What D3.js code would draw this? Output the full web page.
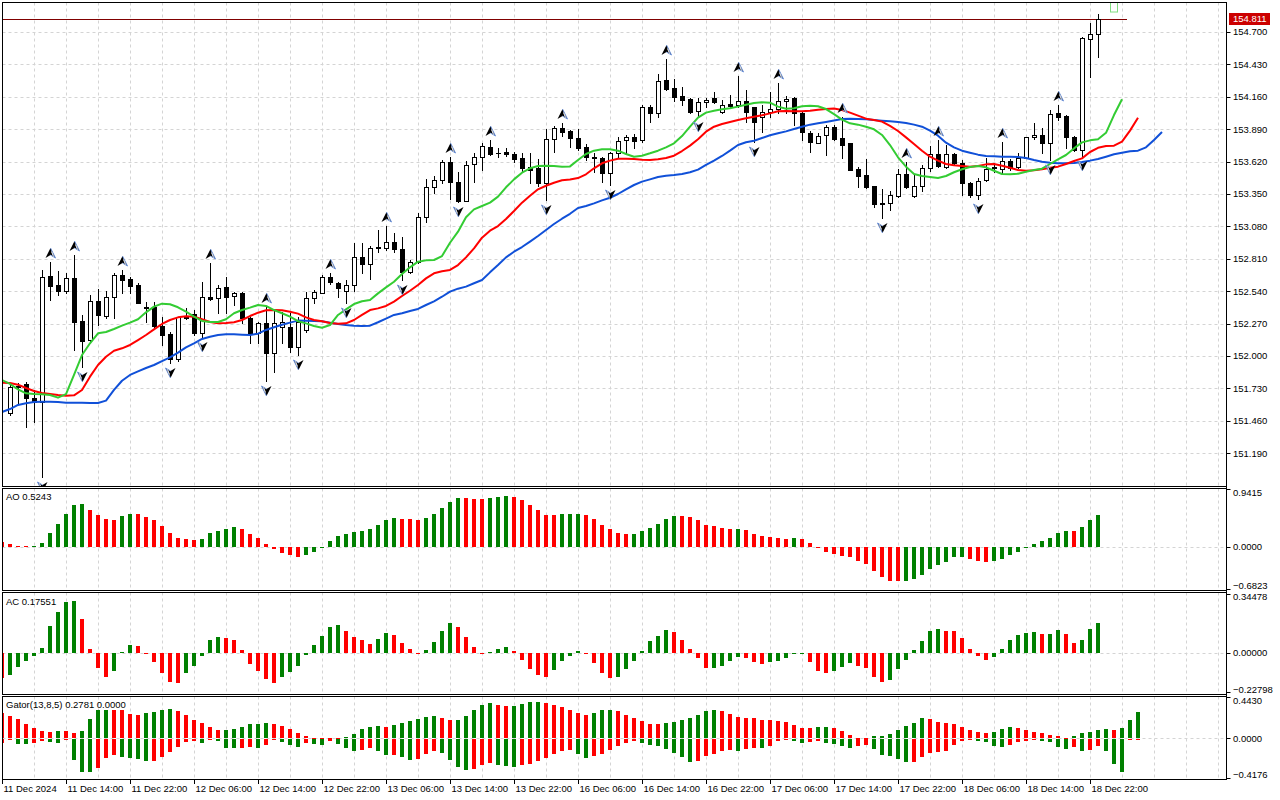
<!DOCTYPE html>
<html><head><meta charset="utf-8">
<script src="https://cdnjs.cloudflare.com/ajax/libs/d3/7.8.5/d3.min.js"></script>
<style>
body{margin:0;background:#fff}
svg{display:block}
text{font-family:"Liberation Sans",Arial,sans-serif;font-size:9.5px;fill:#000}
</style></head>
<body><svg id="c" width="1280" height="800"></svg>
<script>
// ---------- DATA (bar index 0 = 11 Dec 07:00, H1) ----------
const openP=[151.525,151.742,151.767,151.65,151.617,152.667,152.592,152.542,152.65,152.292,152.133,152.458,152.333,152.492,152.675,152.642,152.592,152.40,152.408,152.25,152.183,151.975,152.317,152.35,152.192,152.492,152.483,152.575,152.50,152.525,152.317,152.192,152.275,152.025,152.242,152.245,152.075,152.217,152.483,152.525,152.659,152.609,152.542,152.592,152.825,152.767,152.90,152.90,152.95,152.892,152.70,152.783,153.158,153.408,153.467,153.617,153.45,153.292,153.60,153.658,153.742,153.692,153.70,153.683,153.65,153.575,153.567,153.442,153.808,153.90,153.875,153.817,153.742,153.65,153.65,153.525,153.692,153.80,153.825,153.80,154.075,154.025,154.30,154.233,154.167,154.142,154.042,154.117,154.15,154.033,154.10,154.092,154.125,154.075,153.992,154.033,154.058,154.125,154.15,154.025,153.858,153.775,153.842,153.908,153.817,153.775,153.558,153.508,153.417,153.275,153.275,153.333,153.517,153.333,153.417,153.567,153.683,153.575,153.683,153.608,153.442,153.342,153.467,153.567,153.558,153.625,153.575,153.65,153.825,153.842,153.775,154.025,154.0,153.825,153.717,154.642,154.683];
const highP=[151.775,151.775,151.783,151.717,152.717,152.783,152.709,152.692,152.842,152.342,152.508,152.558,152.542,152.692,152.717,152.659,152.609,152.45,152.45,152.325,152.20,152.325,152.40,152.383,152.617,152.775,152.592,152.659,152.533,152.533,152.325,152.283,152.408,152.383,152.367,152.358,152.325,152.533,152.55,152.675,152.692,152.617,152.633,152.942,152.942,152.917,153.05,153.083,153.025,152.992,152.80,153.192,153.475,153.50,153.633,153.658,153.533,153.625,153.692,153.775,153.80,153.733,153.733,153.70,153.692,153.692,153.642,153.892,153.917,153.942,153.883,153.892,153.767,153.692,153.658,153.70,153.825,153.842,153.85,154.092,154.092,154.35,154.475,154.308,154.242,154.15,154.15,154.15,154.20,154.133,154.175,154.333,154.217,154.075,154.092,154.20,154.275,154.167,154.158,154.033,153.875,153.858,153.925,153.925,153.992,153.775,153.575,153.642,153.417,153.392,153.375,153.558,153.617,153.508,153.592,153.75,153.80,153.758,153.692,153.633,153.45,153.483,153.65,153.608,153.783,153.642,153.692,153.825,153.942,153.90,154.05,154.092,154.008,153.833,154.658,154.775,154.85];
const lowP=[151.51,151.61,151.408,151.45,150.99,152.467,152.509,152.525,152.05,151.908,152.117,152.258,152.317,152.317,152.525,152.525,152.442,152.283,152.242,152.092,151.942,151.958,152.308,152.175,152.158,152.467,152.358,152.358,152.425,152.275,152.108,152.108,151.792,151.867,152.108,152.033,152.008,152.20,152.442,152.525,152.60,152.492,152.442,152.542,152.692,152.642,152.867,152.883,152.867,152.633,152.692,152.775,153.117,153.358,153.442,153.308,153.283,153.292,153.45,153.55,153.675,153.658,153.667,153.617,153.533,153.442,153.417,153.30,153.70,153.833,153.742,153.717,153.633,153.533,153.45,153.425,153.65,153.692,153.733,153.783,153.95,153.992,154.217,154.125,154.092,154.025,153.992,154.075,154.108,154.025,154.067,154.075,153.95,153.783,153.867,153.992,154.025,154.025,153.925,153.80,153.70,153.775,153.675,153.80,153.65,153.55,153.408,153.40,153.242,153.15,153.217,153.325,153.40,153.325,153.375,153.542,153.575,153.567,153.60,153.342,153.325,153.308,153.458,153.533,153.525,153.55,153.567,153.65,153.808,153.692,153.633,153.967,153.733,153.708,153.67,154.325,154.492];
const closeP=[151.742,151.75,151.65,151.617,152.658,152.583,152.542,152.65,152.283,152.125,152.458,152.342,152.492,152.675,152.633,152.583,152.442,152.408,152.25,152.175,151.975,152.325,152.325,152.192,152.492,152.475,152.567,152.492,152.525,152.317,152.192,152.275,152.025,152.275,152.283,152.075,152.283,152.483,152.533,152.659,152.617,152.567,152.592,152.825,152.767,152.90,152.905,152.95,152.892,152.70,152.783,153.158,153.408,153.467,153.617,153.45,153.292,153.592,153.658,153.75,153.683,153.695,153.683,153.642,153.567,153.55,153.442,153.808,153.90,153.867,153.817,153.733,153.658,153.655,153.525,153.692,153.792,153.825,153.792,154.075,154.025,154.292,154.225,154.158,154.133,154.033,154.117,154.133,154.117,154.092,154.083,154.125,154.033,153.95,154.033,154.058,154.125,154.142,154.025,153.867,153.783,153.833,153.908,153.808,153.758,153.55,153.50,153.408,153.267,153.27,153.342,153.517,153.408,153.417,153.567,153.683,153.583,153.683,153.608,153.442,153.342,153.458,153.558,153.575,153.625,153.567,153.65,153.825,153.842,153.775,154.017,153.992,153.825,153.717,154.65,154.683,154.811];
const currentPrice=154.811;

// Alligator lines, first value at bar position -1 (already shifted: lips 3, teeth 5, jaw 8)
const lipsLine=[151.80,151.767,151.722,151.689,151.683,151.681,151.675,151.653,151.683,151.842,152.008,152.106,152.189,152.20,152.225,152.253,152.278,152.306,152.364,152.411,152.436,152.431,152.406,152.369,152.328,152.292,152.283,152.283,152.306,152.356,152.383,152.403,152.425,152.417,152.383,152.356,152.328,152.29,152.272,152.25,152.236,152.258,152.342,152.389,152.433,152.456,152.467,152.522,152.572,152.619,152.683,152.739,152.786,152.797,152.80,152.833,152.944,153.036,153.156,153.222,153.25,153.278,153.328,153.406,153.472,153.528,153.564,153.583,153.586,153.583,153.578,153.58,153.633,153.683,153.711,153.722,153.722,153.711,153.683,153.661,153.669,153.689,153.711,153.739,153.772,153.833,153.911,153.986,154.028,154.044,154.056,154.064,154.078,154.094,154.108,154.114,154.111,154.078,154.061,154.064,154.081,154.086,154.081,154.058,154.015,153.97,153.939,153.928,153.911,153.889,153.842,153.758,153.656,153.578,153.517,153.50,153.492,153.483,153.50,153.531,153.556,153.575,153.583,153.572,153.544,153.517,153.514,153.519,153.536,153.55,153.561,153.60,153.639,153.675,153.73,153.78,153.797,153.806,153.86,154.008,154.139];
const teethLine=[151.778,151.775,151.761,151.733,151.708,151.692,151.683,151.675,151.669,151.672,151.717,151.828,151.925,151.994,152.044,152.064,152.092,152.133,152.175,152.222,152.267,152.30,152.322,152.331,152.328,152.306,152.283,152.272,152.275,152.281,152.30,152.333,152.361,152.381,152.383,152.381,152.369,152.353,152.322,152.30,152.289,152.275,152.269,152.272,152.30,152.342,152.383,152.397,152.417,152.453,152.50,152.544,152.592,152.647,152.689,152.706,152.717,152.758,152.822,152.897,152.986,153.044,153.083,153.142,153.208,153.278,153.336,153.389,153.419,153.444,153.464,153.47,153.483,153.514,153.564,153.606,153.628,153.644,153.644,153.642,153.636,153.633,153.639,153.65,153.669,153.708,153.753,153.806,153.869,153.911,153.933,153.95,153.967,153.981,153.994,154.006,154.022,154.039,154.042,154.039,154.039,154.044,154.053,154.058,154.062,154.05,154.028,154.003,153.978,153.967,153.953,153.917,153.875,153.822,153.767,153.711,153.661,153.628,153.60,153.589,153.583,153.578,153.583,153.597,153.60,153.586,153.569,153.55,153.544,153.547,153.556,153.569,153.578,153.60,153.625,153.647,153.70,153.735,153.75,153.753,153.786,153.878,153.986];
const jawLine=[151.533,151.558,151.592,151.606,151.617,151.619,151.619,151.617,151.611,151.611,151.611,151.608,151.608,151.628,151.717,151.794,151.842,151.872,151.90,151.925,151.958,151.989,152.028,152.072,152.106,152.142,152.161,152.175,152.181,152.181,152.178,152.175,152.186,152.217,152.239,152.261,152.278,152.295,152.294,152.292,152.289,152.278,152.267,152.258,152.253,152.25,152.253,152.281,152.311,152.342,152.356,152.375,152.392,152.425,152.456,152.494,152.536,152.561,152.578,152.606,152.633,152.697,152.758,152.822,152.869,152.908,152.953,153.0,153.05,153.10,153.144,153.185,153.233,153.25,153.272,153.297,153.319,153.35,153.389,153.425,153.453,153.472,153.492,153.503,153.508,153.517,153.531,153.553,153.592,153.628,153.667,153.711,153.758,153.781,153.794,153.817,153.839,153.856,153.872,153.892,153.911,153.928,153.939,153.95,153.962,153.975,153.978,153.975,153.972,153.967,153.961,153.956,153.95,153.942,153.928,153.911,153.878,153.836,153.778,153.739,153.711,153.694,153.678,153.667,153.664,153.661,153.661,153.658,153.65,153.633,153.619,153.611,153.606,153.606,153.608,153.617,153.628,153.641,153.661,153.681,153.694,153.706,153.711,153.739,153.80,153.867];

const fractalUpBars=[5,8,14,25,32,40,47,55,60,69,82,91,96,104,112,116,124,131];
const fractalDownBars=[4,9,20,24,32,36,42,49,56,67,75,86,93,109,121,130,134];

// Oscillators, first value at bar position -1
const aoValues=[0.076,0.043,0.016,0.011,0.013,0.065,0.227,0.374,0.536,0.682,0.698,0.606,0.52,0.455,0.439,0.504,0.536,0.531,0.487,0.439,0.341,0.227,0.141,0.125,0.114,0.135,0.227,0.26,0.298,0.325,0.292,0.211,0.152,0.049,-0.038,-0.097,-0.13,-0.162,-0.13,-0.076,-0.005,0.097,0.179,0.211,0.244,0.265,0.287,0.357,0.439,0.471,0.455,0.452,0.439,0.471,0.536,0.633,0.731,0.796,0.79,0.78,0.776,0.796,0.812,0.828,0.812,0.763,0.682,0.601,0.525,0.52,0.53,0.536,0.538,0.52,0.46,0.357,0.292,0.227,0.211,0.214,0.26,0.309,0.374,0.455,0.504,0.50,0.487,0.439,0.357,0.336,0.303,0.292,0.295,0.276,0.211,0.179,0.162,0.146,0.135,0.146,0.13,0.065,-0.005,-0.076,-0.108,-0.141,-0.162,-0.222,-0.276,-0.384,-0.482,-0.547,-0.55,-0.545,-0.514,-0.455,-0.357,-0.292,-0.238,-0.168,-0.157,-0.19,-0.222,-0.238,-0.233,-0.19,-0.125,-0.076,-0.005,0.049,0.097,0.152,0.227,0.26,0.254,0.325,0.444,0.5243];
const acValues=[-0.147,-0.128,-0.085,-0.05,-0.021,0.029,0.157,0.238,0.297,0.302,0.198,0.023,-0.091,-0.138,-0.103,0.006,0.047,0.041,-0.004,-0.056,-0.12,-0.172,-0.178,-0.12,-0.079,-0.016,0.076,0.093,0.087,0.076,0.017,-0.064,-0.103,-0.155,-0.178,-0.143,-0.109,-0.079,-0.01,0.047,0.099,0.151,0.163,0.128,0.093,0.076,0.052,0.081,0.116,0.105,0.058,0.023,-0.004,0.017,0.064,0.128,0.174,0.151,0.093,0.035,-0.006,0.006,0.023,0.035,0.012,-0.041,-0.093,-0.128,-0.14,-0.099,-0.047,-0.017,0.012,-0.004,-0.058,-0.116,-0.145,-0.14,-0.093,-0.047,0.012,0.07,0.099,0.134,0.122,0.076,0.023,-0.033,-0.087,-0.086,-0.076,-0.05,-0.023,-0.029,-0.056,-0.064,-0.056,-0.05,-0.033,-0.008,-0.006,-0.056,-0.103,-0.12,-0.103,-0.085,-0.062,-0.079,-0.091,-0.138,-0.172,-0.161,-0.097,-0.039,0.017,0.07,0.128,0.14,0.128,0.127,0.087,0.023,-0.021,-0.039,-0.027,0.023,0.076,0.105,0.116,0.122,0.11,0.112,0.134,0.11,0.058,0.076,0.14,0.17551];
const gatorUpper=[0.264,0.236,0.204,0.151,0.109,0.077,0.067,0.077,0.075,0.056,0.077,0.204,0.299,0.301,0.298,0.296,0.257,0.246,0.268,0.278,0.299,0.31,0.289,0.246,0.19,0.162,0.12,0.088,0.092,0.099,0.12,0.151,0.152,0.162,0.151,0.13,0.099,0.056,0.025,0.01,0.008,0.004,0.002,0.012,0.046,0.099,0.12,0.13,0.12,0.141,0.162,0.183,0.204,0.225,0.236,0.215,0.194,0.196,0.236,0.299,0.352,0.373,0.352,0.342,0.344,0.363,0.384,0.385,0.373,0.352,0.331,0.299,0.268,0.246,0.268,0.299,0.30,0.289,0.246,0.215,0.183,0.151,0.15,0.162,0.173,0.194,0.215,0.246,0.289,0.299,0.289,0.257,0.225,0.215,0.213,0.194,0.192,0.183,0.173,0.141,0.109,0.108,0.12,0.121,0.109,0.077,0.035,0.01,0.008,0.025,0.026,0.046,0.088,0.13,0.162,0.215,0.204,0.173,0.162,0.151,0.12,0.088,0.067,0.056,0.067,0.099,0.12,0.109,0.088,0.067,0.056,0.039,0.025,0.01,0.028,0.053,0.07,0.092,0.102,0.092,0.113,0.197,0.2781];
const gatorLower=[-0.035,-0.01,-0.049,-0.05,-0.035,-0.018,-0.028,-0.035,-0.007,-0.218,-0.345,-0.347,-0.303,-0.197,-0.165,-0.183,-0.197,-0.208,-0.229,-0.227,-0.183,-0.134,-0.081,-0.028,-0.018,-0.039,-0.007,-0.018,-0.085,-0.092,-0.085,-0.078,-0.092,-0.06,-0.007,-0.028,-0.06,-0.081,-0.042,-0.049,-0.06,-0.018,-0.049,-0.092,-0.123,-0.113,-0.092,-0.123,-0.162,-0.16,-0.183,-0.218,-0.208,-0.155,-0.123,-0.144,-0.218,-0.292,-0.324,-0.313,-0.271,-0.25,-0.271,-0.278,-0.292,-0.271,-0.26,-0.229,-0.197,-0.155,-0.123,-0.113,-0.155,-0.197,-0.176,-0.155,-0.113,-0.07,-0.039,-0.018,-0.039,-0.06,-0.07,-0.102,-0.144,-0.187,-0.239,-0.229,-0.176,-0.155,-0.123,-0.113,-0.118,-0.102,-0.092,-0.093,-0.07,-0.018,-0.007,-0.018,-0.042,-0.028,-0.018,-0.039,-0.049,-0.07,-0.092,-0.07,-0.063,-0.102,-0.165,-0.176,-0.208,-0.239,-0.237,-0.187,-0.144,-0.134,-0.123,-0.06,-0.018,-0.007,-0.018,-0.028,-0.07,-0.081,-0.06,-0.028,-0.018,-0.008,-0.014,-0.032,-0.084,-0.099,-0.084,-0.127,-0.116,-0.074,-0.127,-0.264,-0.348,-0.004,0];

const priceTicks=[154.700,154.430,154.160,153.890,153.620,153.350,153.080,152.810,152.540,152.270,152.000,151.730,151.460,151.190];
const aoTicks=[0.9415,0,-0.6823];
const acTicks=[0.34478,0,-0.22798];
const gatorTicks=[0.4430,0,-0.4176];
const timeBars=[-1,7,15,23,31,39,47,55,63,71,79,87,95,103,111,119,127,135];
const timeLabels=["11 Dec 2024","11 Dec 14:00","11 Dec 22:00","12 Dec 06:00","12 Dec 14:00","12 Dec 22:00","13 Dec 06:00","13 Dec 14:00","13 Dec 22:00","16 Dec 06:00","16 Dec 14:00","16 Dec 22:00","17 Dec 06:00","17 Dec 14:00","17 Dec 22:00","18 Dec 06:00","18 Dec 14:00","18 Dec 22:00"];

// ---------- LAYOUT ----------
const svg=d3.select('#c');
const LEFT=2.5, RIGHT=1226.5;
const P={main:[2.5,486.5],ao:[488.5,590.5],ac:[592.5,694.5],gt:[696.5,779.5]};
const x=d3.scaleLinear().domain([0,152]).range([10,1226]);
const yM=d3.scaleLinear().domain([150.9167,154.95]).range([486,2]);
const yAO=d3.scaleLinear().domain([-0.6823,0.9415]).range([589,489]);
const yAC=d3.scaleLinear().domain([-0.22798,0.34478]).range([692,593.5]);
const yG=d3.scaleLinear().domain([-0.4176,0.4430]).range([778,696.5]);
const GREEN="#008000", RED="#ff0000";
const gridC="#d4d4d4";

svg.append('rect').attr('width',1280).attr('height',800).attr('fill','#fff');
const defs=svg.append('defs');
Object.entries(P).forEach(([k,[t,b]])=>{
  defs.append('clipPath').attr('id','clip-'+k).append('rect')
    .attr('x',LEFT+0.5).attr('y',t+0.5).attr('width',RIGHT-LEFT-1).attr('height',b-t-1);
});
const layer=k=>svg.append('g').attr('clip-path',`url(#clip-${k})`);

// grids
const gridBars=d3.range(3,152,4);
Object.entries(P).forEach(([k,[t,b]])=>{
  const g=layer(k);
  g.selectAll('line.v').data(gridBars).join('line')
    .attr('x1',d=>x(d)+0.5).attr('x2',d=>x(d)+0.5).attr('y1',t).attr('y2',b)
    .attr('stroke',gridC).attr('stroke-dasharray','3,3');
});
const gMain=layer('main');
gMain.selectAll('line.h').data(priceTicks).join('line')
  .attr('x1',LEFT).attr('x2',RIGHT).attr('y1',d=>Math.round(yM(d))+0.5).attr('y2',d=>Math.round(yM(d))+0.5)
  .attr('stroke',gridC).attr('stroke-dasharray','3,3');

// bid line
gMain.append('line').attr('x1',LEFT).attr('x2',1127).attr('y1',Math.round(yM(currentPrice))+0.5).attr('y2',Math.round(yM(currentPrice))+0.5)
  .attr('stroke','#800000').attr('stroke-width',1);

// candles
const bars=d3.range(openP.length);
gMain.selectAll('line.wick').data(bars).join('line')
  .attr('x1',i=>x(i)+0.5).attr('x2',i=>x(i)+0.5)
  .attr('y1',i=>Math.round(yM(highP[i]))).attr('y2',i=>Math.round(yM(lowP[i]))+1)
  .attr('stroke','#000');
gMain.selectAll('rect.body').data(bars).join('rect')
  .attr('x',i=>x(i)-1.5).attr('width',4)
  .attr('y',i=>Math.round(yM(Math.max(openP[i],closeP[i])))+0.5)
  .attr('height',i=>Math.max(0.01,Math.round(yM(Math.min(openP[i],closeP[i])))-Math.round(yM(Math.max(openP[i],closeP[i])))))
  .attr('fill',i=>closeP[i]>=openP[i]?'#fff':'#000').attr('stroke','#000');

// alligator
const drawLine=(arr,color)=>{
  const ln=d3.line().x((d,i)=>x(i-1)).y(d=>yM(d));
  gMain.append('path').datum(arr).attr('d',ln).attr('fill','none').attr('stroke',color).attr('stroke-width',2).attr('stroke-linejoin','round');
};
drawLine(jawLine,'#1050d8');
drawLine(teethLine,'#ff0000');
drawLine(lipsLine,'#33cc33');

// fractals
fractalUpBars.forEach(i=>{
  const g=gMain.append('g').attr('transform',`translate(${x(i)+0.5},${Math.round(yM(highP[i]))-4})`);
  g.append('path').attr('d','M0,-10L5,0L0,-3L-5,0Z').attr('fill','#000');
  g.append('path').attr('d','M0,-10L5,0L0,-3').attr('fill','none').attr('stroke','#6f95dc').attr('stroke-width',1);
  g.append('path').attr('d','M1,-6.5L3,-1.5').attr('stroke','#fff').attr('stroke-width',1);
});
fractalDownBars.forEach(i=>{
  const g=gMain.append('g').attr('transform',`translate(${x(i)+0.5},${Math.round(yM(lowP[i]))+5})`);
  g.append('path').attr('d','M0,10L-5,0L0,3L5,0Z').attr('fill','#000');
  g.append('path').attr('d','M0,10L-5,0L0,3').attr('fill','none').attr('stroke','#6f95dc').attr('stroke-width',1);
  g.append('path').attr('d','M-1,6.5L-3,1.5').attr('stroke','#fff').attr('stroke-width',1);
});
// green marker box at top
gMain.append('rect').attr('x',1110.5).attr('y',-1).attr('width',7).attr('height',13)
  .attr('fill','none').attr('stroke','#80dd80');

// histograms
function hist(k,arr,ys,colorFn){
  const g=layer(k);
  const z=Math.round(ys(0));
  g.append('line').attr('x1',LEFT).attr('x2',RIGHT).attr('y1',z+0.5).attr('y2',z+0.5)
    .attr('stroke',gridC).attr('stroke-dasharray','3,3');
  g.selectAll('rect.h').data(arr).join('rect')
    .attr('x',(d,i)=>x(i-1)-2).attr('width',4)
    .attr('y',d=>{const yy=Math.round(ys(d));return d>=0?Math.min(yy,z):z;})
    .attr('height',d=>Math.max(1,Math.abs(Math.round(ys(d))-z)))
    .attr('fill',(d,i)=>colorFn(d,i,arr));
}
const osc=(d,i,a)=> i>0 && d>a[i-1]?GREEN:RED;
hist('ao',aoValues,yAO,osc);
hist('ac',acValues,yAC,osc);
hist('gt',gatorUpper,yG,(d,i,a)=> i>0 && d>a[i-1]?GREEN:RED);
const gl=layer('gt');
gl.selectAll('rect.l').data(gatorLower).join('rect')
  .attr('x',(d,i)=>x(i-1)-2).attr('width',4)
  .attr('y',Math.round(yG(0))+1)
  .attr('height',d=>Math.max(1,Math.round(yG(d))-Math.round(yG(0))))
  .attr('fill',(d,i)=> i>0 && Math.abs(d)>Math.abs(gatorLower[i-1])?GREEN:RED);

// frames
Object.values(P).forEach(([t,b])=>{
  svg.append('rect').attr('x',LEFT).attr('y',t).attr('width',RIGHT-LEFT).attr('height',b-t)
    .attr('fill','none').attr('stroke','#000');
});

// right axis
svg.append('line').attr('x1',RIGHT).attr('x2',RIGHT).attr('y1',2).attr('y2',779.5).attr('stroke','#000');
const ax=svg.append('g');
ax.selectAll('line.pt').data(priceTicks).join('line')
  .attr('x1',RIGHT).attr('x2',RIGHT+4).attr('y1',d=>Math.round(yM(d))+0.5).attr('y2',d=>Math.round(yM(d))+0.5).attr('stroke','#000');
ax.selectAll('text.pt').data(priceTicks).join('text')
  .attr('x',1233).attr('y',d=>yM(d)+3.4).text(d=>d3.format('.3f')(d));
// current price label
const cy=yM(currentPrice);
ax.append('rect').attr('x',1229).attr('y',Math.round(cy)-6).attr('width',41).attr('height',12).attr('fill','#cc0000');
ax.append('text').attr('x',1233).attr('y',cy+3.4).style('fill','#fff').text(d3.format('.3f')(currentPrice));

function subAxis(ticks,ys,top,bot,fmt){
  ticks.forEach(v=>{
    const yy=ys(v);
    ax.append('line').attr('x1',RIGHT).attr('x2',RIGHT+4).attr('y1',Math.round(yy)+0.5).attr('y2',Math.round(yy)+0.5).attr('stroke','#000');
    const by=Math.min(Math.max(yy+3.4,top+7),bot-2);
    ax.append('text').attr('x',1233).attr('y',by).text(d3.format(fmt)(v));
  });
}
subAxis(aoTicks,yAO,P.ao[0],P.ao[1],'.4f');
subAxis(acTicks,yAC,P.ac[0],P.ac[1],'.5f');
subAxis(gatorTicks,yG,P.gt[0],P.gt[1],'.4f');

// panel labels
svg.append('text').attr('x',6).attr('y',500).text('AO '+d3.format('.4f')(aoValues[aoValues.length-1]));
svg.append('text').attr('x',6).attr('y',605).text('AC '+d3.format('.5f')(acValues[acValues.length-1]));
svg.append('text').attr('x',6).attr('y',708).text('Gator(13,8,5) '+d3.format('.4f')(gatorUpper[gatorUpper.length-1])+' '+d3.format('.4f')(Math.abs(gatorLower[gatorLower.length-1])));

// time axis
const tg=svg.append('g');
timeBars.forEach((b,i)=>{
  const xx=Math.max(LEFT,x(b)+0.5);
  tg.append('line').attr('x1',xx).attr('x2',xx).attr('y1',779.5).attr('y2',784).attr('stroke','#000');
  tg.append('text').attr('x',xx+1).attr('y',792).text(timeLabels[i]);
});
</script>
</body></html>
